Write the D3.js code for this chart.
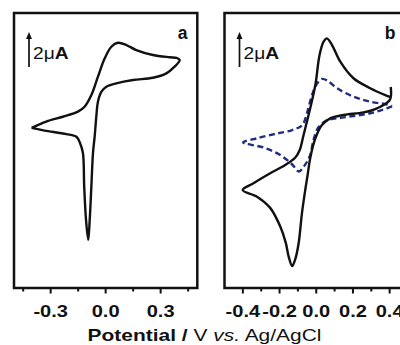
<!DOCTYPE html>
<html lang="en">
<head>
  <meta charset="UTF-8">
  <title>Cyclic voltammograms</title>
  <script src="https://d3js.org/d3.v7.min.js"></script>
  <style>
    body { margin: 0; padding: 0; background: #fff; }
    svg { display: block; font-family: "Liberation Sans", Arial, sans-serif; }
  </style>
</head>
<body>
  <div id="chart"></div>
  <script>
    // panel a: one loop, potential (V) and current (uA)
    const potA  = [-0.404, -0.324, -0.233, -0.151, -0.115, -0.078, -0.042, -0.005, 0.031, 0.067, 0.113, 0.167, 0.258, 0.349, 0.387, 0.404,
                   0.376, 0.331, 0.258, 0.149, 0.058, 0.004, -0.023, -0.042, -0.051, -0.060, -0.069, -0.078, -0.087, -0.095,
                   -0.107, -0.117, -0.124, -0.140, -0.158, -0.214, -0.333, -0.404];
    const currA = [1.26, 1.62, 1.90, 2.19, 2.47, 3.14, 4.19, 5.24, 5.90, 6.13, 6.00, 5.71, 5.43, 5.30, 5.26, 5.14,
                   4.76, 4.38, 4.13, 4.00, 3.81, 3.62, 3.33, 2.76, 1.90, 0.76, -0.17, -2.10, -4.00, -5.14,
                   -4.00, -2.10, -0.17, 0.40, 0.74, 0.91, 1.11, 1.26];

    // panel b, solid loop
    const potB  = [0.406, 0.401, 0.331, 0.258, 0.149, 0.076, 0.031, -0.005, -0.033, -0.047, -0.060, -0.078, -0.096, -0.114, -0.131,
                   -0.150, -0.166, -0.196, -0.251, -0.323, -0.401,
                   -0.342, -0.251, -0.169, -0.114, -0.090, -0.069, -0.033, -0.005, 0.018, 0.040, 0.058, 0.086, 0.131, 0.203, 0.294, 0.376, 0.403];
    const currB = [3.60, 2.86, 2.38, 2.15, 2.00, 1.81, 1.43, 0.67, -0.47, -1.43, -2.29, -3.62, -5.33, -6.23, -6.63,
                   -6.11, -5.31, -4.38, -3.31, -2.67, -2.29,
                   -1.90, -1.33, -0.86, -0.43, 0.00, 0.86, 2.38, 3.71, 5.43, 6.19, 6.38, 6.00, 5.05, 4.10, 3.53, 3.14, 3.03];

    // panel b, dashed loop
    const potBd  = [0.413, 0.385, 0.294, 0.149, 0.058, 0.013, -0.015, -0.033, -0.065, -0.095, -0.131, -0.196, -0.287, -0.398,
                    -0.322, -0.214, -0.131, -0.076, -0.049, -0.023, 0.003, 0.031, 0.060, 0.113, 0.203, 0.294, 0.385, 0.413];
    const currBd = [2.49, 2.38, 2.10, 1.86, 1.69, 1.31, 0.57, -0.29, -0.91, -1.23, -0.83, -0.29, 0.14, 0.43,
                    0.67, 0.94, 1.14, 1.43, 2.17, 3.14, 3.77, 4.06, 3.97, 3.53, 3.05, 2.76, 2.60, 2.49];

    const ticksA = [-0.45, -0.3, -0.15, 0, 0.15, 0.3, 0.45];
    const labelsA = [-0.3, 0.0, 0.3];
    const ticksB = [-0.4, -0.3, -0.2, -0.1, 0, 0.1, 0.2, 0.3, 0.4, 0.5];
    const labelsB = [-0.4, -0.2, 0.0, 0.2, 0.4];

    const W = 400, H = 345;
    const svg = d3.select("#chart").append("svg").attr("width", W).attr("height", H);

    const y = d3.scaleLinear().domain([-7.89, 7.83]).range([288, 13]);
    const xA = d3.scaleLinear().domain([-0.5, 0.5]).range([14, 197.3]);
    const xB = d3.scaleLinear().domain([-0.5, 0.5]).range([224.5, 408]);

    function panel(x, ticks, labels, majorStep, letter, letterX) {
      const g = svg.append("g");
      const [x0, x1] = x.range();
      g.append("rect")
        .attr("x", x0).attr("y", 13).attr("width", x1 - x0).attr("height", 275)
        .attr("fill", "none").attr("stroke", "#111").attr("stroke-width", 2.5);

      ticks.forEach(t => {
        const major = Math.abs(t / majorStep - Math.round(t / majorStep)) < 1e-6;
        g.append("line")
          .attr("x1", x(t)).attr("x2", x(t))
          .attr("y1", 288).attr("y2", 288 + (major ? 5.5 : 3.5))
          .attr("stroke", "#111").attr("stroke-width", 2);
      });

      labels.forEach(t => {
        g.append("text")
          .attr("transform", `translate(${x(t)},317) scale(1.18,1)`)
          .attr("text-anchor", "middle")
          .attr("font-size", 17).attr("font-weight", "bold").attr("fill", "#111")
          .text(t < 0 ? "-" + Math.abs(t).toFixed(1) : t.toFixed(1));
      });

      // scale bar: 2 uA
      const ax = x0 + 15;
      const yb = 67, yt = yb - (y(0) - y(2));
      g.append("line").attr("x1", ax).attr("x2", ax).attr("y1", yb).attr("y2", yt + 5)
        .attr("stroke", "#111").attr("stroke-width", 1.7);
      g.append("path").attr("d", `M${ax - 3},${yt + 7}L${ax},${yt}L${ax + 3},${yt + 7}Z`).attr("fill", "#111");
      const t2 = g.append("text")
        .attr("transform", `translate(${ax + 4},59) scale(1.2,1)`)
        .attr("font-size", 16).attr("fill", "#111");
      t2.append("tspan").text("2\u03bc");
      t2.append("tspan").attr("font-weight", "bold").text("A");

      g.append("text")
        .attr("x", letterX).attr("y", 38.5)
        .attr("text-anchor", "middle")
        .attr("font-size", 17.5).attr("font-weight", "bold").attr("fill", "#111")
        .text(letter);
      return g;
    }

    const gA = panel(xA, ticksA, labelsA, 0.3, "a", 182.5);
    const gB = panel(xB, ticksB, labelsB, 0.2, "b", 390);

    function loop(px, py) { return px.map((p, i) => [p, py[i]]); }

    const lineA = d3.line().x(d => xA(d[0])).y(d => y(d[1])).curve(d3.curveCatmullRom.alpha(0.5));
    const lineB = d3.line().x(d => xB(d[0])).y(d => y(d[1])).curve(d3.curveCatmullRom.alpha(0.5));

    gA.append("path").datum(loop(potA, currA)).attr("d", lineA)
      .attr("fill", "none").attr("stroke", "#111").attr("stroke-width", 2.4).attr("stroke-linejoin", "round");

    gB.append("path").datum(loop(potBd, currBd)).attr("d", lineB)
      .attr("fill", "none").attr("stroke", "#1f2d80").attr("stroke-width", 2.4)
      .attr("stroke-dasharray", "6,3.5");

    gB.append("path").datum(loop(potB, currB)).attr("d", lineB)
      .attr("fill", "none").attr("stroke", "#111").attr("stroke-width", 2.4).attr("stroke-linejoin", "round");

    // shared x-axis title
    const title = svg.append("text")
      .attr("transform", "translate(204.5,341) scale(1.27,1)")
      .attr("text-anchor", "middle")
      .attr("font-size", 16.5).attr("fill", "#111");
    title.append("tspan").attr("font-weight", "bold").text("Potential / ");
    title.append("tspan").text("V ");
    title.append("tspan").attr("font-style", "italic").text("vs.");
    title.append("tspan").text(" Ag/AgCl");
  </script>
</body>
</html>
